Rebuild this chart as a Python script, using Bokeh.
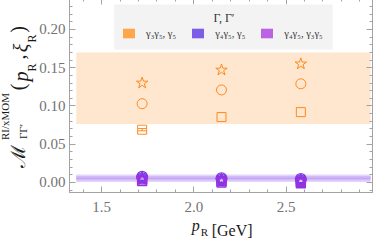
from bokeh.plotting import figure
from bokeh.models import (ColumnDataSource, Range1d, LinearAxis, Whisker, TeeHead, Label,
                          Legend, LegendItem, BoxAnnotation, SingleIntervalTicker,
                          FixedTicker, PrintfTickFormatter)
from bokeh.embed import file_html
from bokeh.resources import INLINE

# ---------------- data ----------------
p_R = [1.72, 2.15, 2.58]

# Gamma, Gamma' = gamma3 gamma5, gamma5  (orange)
g35g5_star = [0.130, 0.147, 0.155]
g35g5_circ = [0.103, 0.121, 0.129]
g35g5_sq = [0.069, 0.0855, 0.092]
g35g5_err = [0.0015, 0.0015, 0.0015]
g35g5_band = [0.0763, 0.170]

# gamma4 gamma5, gamma5  (blue violet)
g45g5_circ = [0.008, 0.006, 0.005]
g45g5_star = [0.006, 0.004, 0.003]
g45g5_sq = [0.004, 0.002, 0.001]
# gamma4 gamma5, gamma3 gamma5  (violet)
g45g35_circ = [0.006, 0.004, 0.003]
g45g35_star = [0.004, 0.002, 0.001]
g45g35_sq = [0.002, 0.000, -0.001]
purple_err = [0.0015, 0.0015, 0.0015]
purple_band_outer = [0.0005, 0.0105]
purple_band_inner = [0.0025, 0.0085]
purple_band_center = 0.0055

band_x = [1.363, 2.958]

legend_labels = ["γ₃γ₅, γ₅", "γ₄γ₅, γ₅", "γ₄γ₅, γ₃γ₅"]
legend_title = "Γ, Γ′"

x_range = (1.3263, 2.9684)
y_range = (-0.0131, 0.2405)

# ---------------- styles ----------------
ORANGE_PT = "#ff8a1c"
ORANGE_SW = "#ffa64d"
BLUEV_PT = "#6a3fe8"
BLUEV_SW = "#7d5ce6"
VIOL_PT = "#9a30e0"
VIOL_SW = "#bb63e3"
FRAME = "#a3a3a3"
TICKLAB = "#737373"
TXT = "#1a1a1a"
SERIF = "Liberation Serif"


# window-pixel -> data helpers (layout positions only)
def X(px):
    return round(1.5 + (px - 97) / 190.0, 5)


def Y(py):
    return round(0.20 - (py - 33) * 0.05 / 38.25, 5)


p = figure(width=382, height=251, x_range=Range1d(*x_range), y_range=Range1d(*y_range),
           output_backend="svg", toolbar_location=None,
           min_border_left=64, min_border_right=6, min_border_top=2,
           min_border_bottom=55, background_fill_color="white",
           border_fill_color="white", outline_line_color=FRAME)
p.styles = {"margin": "-4px"}
p.grid.visible = False


def style_axis(ax, labels=True, fmt="%.1f"):
    ax.axis_line_color = FRAME
    ax.major_tick_line_color = FRAME
    ax.minor_tick_line_color = FRAME
    ax.major_tick_in = 6
    ax.major_tick_out = 0
    ax.minor_tick_in = 3
    ax.minor_tick_out = 0
    ax.formatter = PrintfTickFormatter(format=fmt)
    if labels:
        ax.major_label_text_font = SERIF
        ax.major_label_text_font_size = "15px"
        ax.major_label_text_color = TICKLAB
    else:
        ax.major_label_text_font_size = "1px"
        ax.major_label_text_color = None
        ax.major_label_standoff = 0


p.xaxis.ticker = SingleIntervalTicker(interval=0.5, num_minor_ticks=5)
p.yaxis.ticker = SingleIntervalTicker(interval=0.05, num_minor_ticks=5)
style_axis(p.xaxis[0], True, "%.1f")
style_axis(p.yaxis[0], True, "%.2f")
p.xaxis.major_label_standoff = 9
p.yaxis.major_label_standoff = 4

top_ax = LinearAxis(ticker=SingleIntervalTicker(interval=0.5, num_minor_ticks=5))
right_ax = LinearAxis(ticker=SingleIntervalTicker(interval=0.05, num_minor_ticks=5))
style_axis(top_ax, False)
style_axis(right_ax, False)
p.add_layout(top_ax, "above")
p.add_layout(right_ax, "right")

# ---------------- bands ----------------
p.quad(left=[band_x[0]], right=[band_x[1]], bottom=[g35g5_band[0]], top=[g35g5_band[1]],
       fill_color="#fee6cf", line_color=None)
p.quad(left=[band_x[0]], right=[band_x[1]], bottom=[purple_band_outer[0]],
       top=[purple_band_outer[1]], fill_color="#e4d6fa", line_color=None)
p.quad(left=[band_x[0]], right=[band_x[1]], bottom=[purple_band_inner[0]],
       top=[purple_band_inner[1]], fill_color="#d2baf6", line_color=None)
p.line(x=band_x, y=[purple_band_center, purple_band_center], line_color="#bc9ff2",
       line_width=1.2)


# ---------------- points ----------------
def series(vals, err, color, marker, size, lw=1.0):
    src = ColumnDataSource(dict(x=p_R, y=vals,
                                lo=[v - e for v, e in zip(vals, err)],
                                hi=[v + e for v, e in zip(vals, err)]))
    w = Whisker(source=src, base="x", upper="hi", lower="lo", dimension="height",
                line_color=color, line_width=lw,
                upper_head=TeeHead(size=size * 0.9, line_color=color, line_width=lw),
                lower_head=TeeHead(size=size * 0.9, line_color=color, line_width=lw))
    p.add_layout(w)
    p.scatter("x", "y", source=src, marker=marker, size=size, fill_color=None,
              line_color=color, line_width=lw)


for vals, mk, sz in [(g35g5_star, "star", 12), (g35g5_circ, "circle", 10),
                     (g35g5_sq, "square", 9)]:
    series(vals, g35g5_err, ORANGE_PT, mk, sz)
for vals, mk, sz in [(g45g5_star, "star", 12), (g45g5_circ, "circle", 10),
                     (g45g5_sq, "square", 9)]:
    series(vals, purple_err, BLUEV_PT, mk, sz, 1.4)
for vals, mk, sz in [(g45g35_star, "star", 12), (g45g35_circ, "circle", 10),
                     (g45g35_sq, "square", 9)]:
    series(vals, purple_err, VIOL_PT, mk, sz, 1.4)

# ---------------- legend ----------------
box = BoxAnnotation(left=X(110), right=X(335), top=Y(8), bottom=Y(53),
                    fill_color="#f3f3f3", fill_alpha=1.0, line_color=None)
p.add_layout(box)

NAN = float("nan")
dummies = []
for c in [ORANGE_SW, BLUEV_SW, VIOL_SW]:
    r = p.quad(left=[NAN], right=[NAN], top=[NAN], bottom=[NAN], fill_color=c,
               line_color=None)
    dummies.append(r)

legend = Legend(items=[LegendItem(label=l, renderers=[r]) for l, r in zip(legend_labels, dummies)],
                orientation="horizontal", location=(116 - 64, 196 - 43), padding=0, margin=0,
                spacing=14, label_standoff=10, glyph_width=15, glyph_height=12,
                label_height=12, label_text_font=SERIF, label_text_font_size="10.5px",
                label_text_color="#333333", border_line_color=None,
                background_fill_alpha=0.0)
p.add_layout(legend, "center")

p.add_layout(Label(x=X(223), y=Y(22), text=legend_title, text_align="center",
                   text_baseline="alphabetic", text_font=SERIF,
                   text_font_size="12px", text_color="#333333"))


# ---------------- axis titles, built from label-only axes ----------------
def label_axis(side, positions, texts, size, style, standoff):
    ax = LinearAxis(ticker=FixedTicker(ticks=positions, minor_ticks=[]),
                    major_label_overrides=dict(zip(positions, texts)),
                    axis_line_color=None, major_tick_line_color=None,
                    minor_tick_line_color=None, major_tick_in=0, major_tick_out=0,
                    minor_tick_in=0, minor_tick_out=0,
                    major_label_standoff=standoff, major_label_text_font=SERIF,
                    major_label_text_font_size=size, major_label_text_font_style=style,
                    major_label_text_color=TXT)
    if side == "left":
        ax.major_label_orientation = "vertical"
    p.add_layout(ax, side)


# y title: ℳ^{RI/xMOM}_{ΓΓ′}(p_R, ξ_R), reading bottom to top
label_axis("left", [Y(71), Y(42)], ["R", "R"], "12px", "normal", -3)
label_axis("left", [Y(135)], ["ΓΓ′"], "11px", "normal", -7)
label_axis("left", [Y(80), Y(51.5)], ["p", "ξ"], "20px", "italic", -18)
label_axis("left", [Y(160), Y(90.5), Y(60.5), Y(33)], ["ℳ", "(", ",", ")"], "20px",
           "normal", -22)
label_axis("left", [Y(120)], ["RI/xMOM"], "11px", "normal", -7)

# x title: p_R [GeV]
label_axis("below", [X(194)], ["p"], "16px", "italic", 2)
label_axis("below", [X(203)], ["R"], "11px", "normal", -11)
label_axis("below", [X(231.5)], ["[GeV]"], "16px", "normal", -19)

open("out.html", "w").write(file_html(p, INLINE))
